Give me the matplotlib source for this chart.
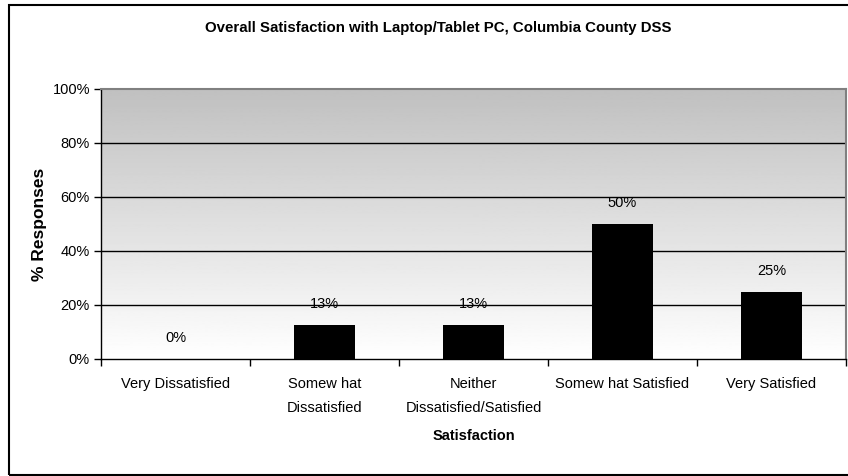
import numpy as np
import matplotlib
matplotlib.use("Agg")
import matplotlib.pyplot as plt
from matplotlib.patches import Rectangle

plt.rcParams['font.family'] = ['Liberation Sans', 'DejaVu Sans']

categories = ["Very Dissatisfied", "Somew hat\nDissatisfied",
              "Neither\nDissatisfied/Satisfied", "Somew hat Satisfied",
              "Very Satisfied"]
values = [0, 12.5, 12.5, 50, 25]
value_labels = ["0%", "13%", "13%", "50%", "25%"]
yticks = [0, 20, 40, 60, 80, 100]

fig = plt.figure(figsize=(8.48, 4.76), dpi=100)
ax = fig.add_axes([101 / 848, 117 / 476, 745 / 848, 270 / 476])

x = np.arange(len(categories))
ax.set_xlim(-0.5, len(categories) - 0.5)
ax.set_ylim(0, 100)

# gray gradient background, dark at top
grad = np.linspace(1.0, 0.753, 256).reshape(-1, 1)
ax.imshow(grad, extent=(-0.5, len(categories) - 0.5, 0, 100), origin="lower",
          aspect="auto", cmap="gray", vmin=0, vmax=1, zorder=0)

for y in yticks[1:-1]:
    ax.axhline(y, color="black", lw=1, zorder=1)

ax.bar(x, values, width=0.41, color="black", zorder=2)
for xi, v, lab in zip(x, values, value_labels):
    ax.annotate(lab, (xi, v), xytext=(0, 15), textcoords="offset points",
                ha="center", va="center", fontsize=10.5)

ax.set_yticks(yticks)
ax.set_yticklabels(["%d%%" % t for t in yticks], fontsize=10.5)
ax.set_xticks(x)
ax.set_xticklabels(categories, fontsize=10.5, va="top", linespacing=1.9)
ax.set_xticks(np.arange(-0.5, len(categories)), minor=True)
ax.tick_params(axis="x", which="major", length=0, pad=13)
ax.tick_params(axis="x", which="minor", length=5, direction="out", width=1)
ax.tick_params(axis="y", length=5, direction="out", width=1, pad=3)

for s in ["top", "right"]:
    ax.spines[s].set_color("#808080")
    ax.spines[s].set_linewidth(1.5)
for s in ["left", "bottom"]:
    ax.spines[s].set_color("black")
    ax.spines[s].set_linewidth(1)

ax.set_xlabel("Satisfaction", fontsize=10.5, fontweight="bold", labelpad=10)
ax.set_ylabel("% Responses", fontsize=12.5, fontweight="bold", labelpad=4)

fig.text(438 / 848, 1 - 28 / 476, "Overall Satisfaction with Laptop/Tablet PC, Columbia County DSS",
         ha="center", va="center", fontsize=10.8, fontweight="bold")

fig.patches.append(Rectangle((9 / 848, 1 / 476), 1.0, 470 / 476, transform=fig.transFigure,
                             fill=False, edgecolor="black", lw=1.5))

fig.savefig("out.png", dpi=100)
